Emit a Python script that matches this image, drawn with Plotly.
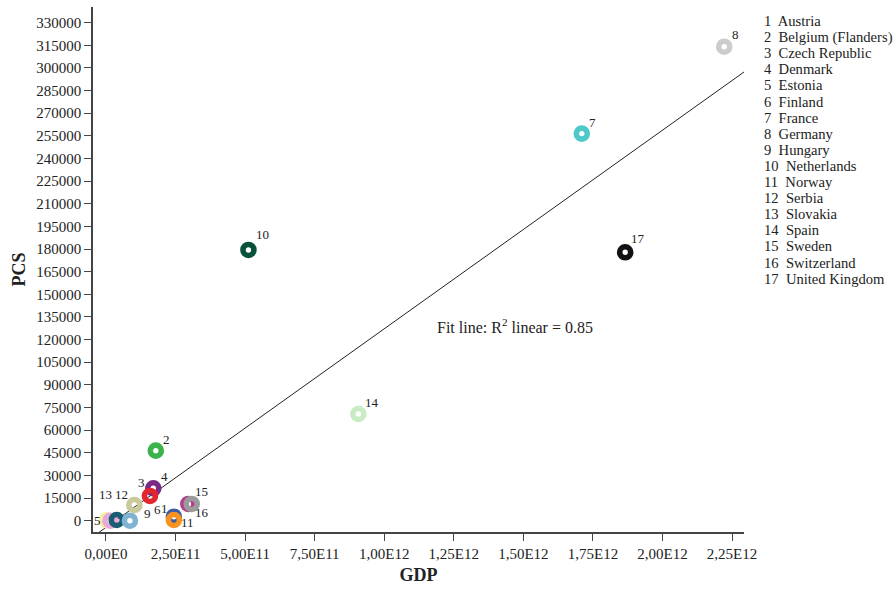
import plotly.graph_objects as go

# ---- data ----
ids = list(range(1, 18))
countries = ["Austria", "Belgium (Flanders)", "Czech Republic", "Denmark", "Estonia",
             "Finland", "France", "Germany", "Hungary", "Netherlands", "Norway",
             "Serbia", "Slovakia", "Spain", "Sweden", "Switzerland", "United Kingdom"]
gdp = [2.44e11, 1.79e11, 1.58e11, 1.70e11, 0.3e10, 0.86e11, 1.71e12, 2.222e12, 1.02e11,
       5.12e11, 2.44e11, 3.85e10, 1.6e10, 9.07e11, 3.08e11, 2.96e11, 1.866e12]
pcs = [2650, 46400, 16370, 21470, 200, 0, 256500, 314100, 10400,
       179400, 460, 460, 0, 70700, 11070, 11070, 177860]
fit_intercept = -4446
fit_slope = 1.3161e-7
r2_text = "Fit line: R<sup>2</sup> linear = 0.85"
xtick_vals = [0, 2.5e11, 5e11, 7.5e11, 1e12, 1.25e12, 1.5e12, 1.75e12, 2e12, 2.25e12]
xtick_text = ["0,00E0", "2,50E11", "5,00E11", "7,50E11", "1,00E12", "1,25E12",
              "1,50E12", "1,75E12", "2,00E12", "2,25E12"]
ytick_vals = list(range(0, 330001, 15000))
ytick_text = [str(v) for v in ytick_vals]

# ---- style ----
colors = ["#3b5ba9", "#3cb44b", "#e3262b", "#7a2a84", "#f5f0a0", "#7fb3d1", "#4ec9c9",
          "#cccccc", "#c9c99a", "#08513b", "#f7931e", "#1a5d73", "#e6a8da", "#c8edc5",
          "#9b9b9b", "#b53c8c", "#111111"]
# label offsets in pixels (dx right, dy up)
label_offsets = {1: (-9, 8), 2: (11, 11), 3: (-8, 13), 4: (11, 12), 5: (-9, 0),
                 6: (28, 11), 7: (11, 11), 8: (11, 12), 9: (13, -8), 10: (14, 15),
                 11: (14, -2), 12: (5, 26), 13: (-5, 26), 14: (14, 12), 15: (10, 12),
                 16: (14, -9), 17: (13, 14)}
draw_order = [5, 13, 12, 6, 9, 4, 3, 1, 11, 16, 15, 2, 10, 14, 7, 17, 8]

FONT = "Liberation Serif, Times New Roman, serif"
W, H = 896, 590
L, R, T, B = 93, 152, 7, 58
xr = [-4.67e10, 2.293e12]
yr = [-7490, 340400]

fig = go.Figure()

# fit line across the x range
fig.add_trace(go.Scatter(x=xr, y=[fit_intercept + fit_slope * v for v in xr],
                         mode="lines", line=dict(color="#222222", width=1),
                         hoverinfo="skip", showlegend=False))

for i in draw_order:
    k = i - 1
    fig.add_trace(go.Scatter(
        x=[gdp[k]], y=[pcs[k]], mode="markers", name=countries[k],
        marker=dict(symbol="circle-open", size=11, color=colors[k],
                    line=dict(color=colors[k], width=5.6)),
        showlegend=False))

annotations = []
for i in ids:
    k = i - 1
    dx, dy = label_offsets[i]
    annotations.append(dict(x=gdp[k], y=pcs[k], xref="x", yref="y", text=str(i),
                            showarrow=False, xshift=dx, yshift=dy,
                            font=dict(family=FONT, size=13, color="#222222")))

# legend-like list at right
pw = W - L - R
ph = H - T - B
for n, (i, c) in enumerate(zip(ids, countries)):
    py = 21 + n * 16.1
    annotations.append(dict(x=(762 - L) / pw, y=(H - B - py) / ph, xref="paper", yref="paper",
                            xanchor="left", yanchor="middle", text=f"{i}  {c}",
                            showarrow=False,
                            font=dict(family=FONT, size=14.6, color="#222222")))

annotations.append(dict(x=(435 - L) / pw, y=(H - B - 326) / ph, xref="paper", yref="paper",
                        xanchor="left", yanchor="middle", text=r2_text, showarrow=False,
                        font=dict(family=FONT, size=16, color="#222222")))

fig.update_layout(
    width=W, height=H,
    margin=dict(l=L, r=R, t=T, b=B),
    paper_bgcolor="white", plot_bgcolor="white",
    font=dict(family=FONT, size=15, color="#222222"),
    annotations=annotations,
    showlegend=False,
    xaxis=dict(range=xr, tickvals=xtick_vals, ticktext=xtick_text, showgrid=False,
               zeroline=False, showline=True, linecolor="#444444", linewidth=1.5,
               ticks="outside", ticklen=7, tickcolor="#444444",
               tickfont=dict(family=FONT, size=15),
               title=dict(text="<b>GDP</b>", font=dict(family=FONT, size=18), standoff=8)),
    yaxis=dict(range=yr, tickvals=ytick_vals, ticktext=ytick_text, showgrid=False,
               zeroline=False, showline=True, linecolor="#444444", linewidth=1.5,
               ticks="outside", ticklen=7, tickcolor="#444444",
               tickfont=dict(family=FONT, size=15),
               title=dict(text="<b>PCS</b>", font=dict(family=FONT, size=18), standoff=6)),
)

fig.write_html("out.html", config={"displayModeBar": False},
               post_script="document.body.style.margin='0';document.body.style.overflow='hidden';")
